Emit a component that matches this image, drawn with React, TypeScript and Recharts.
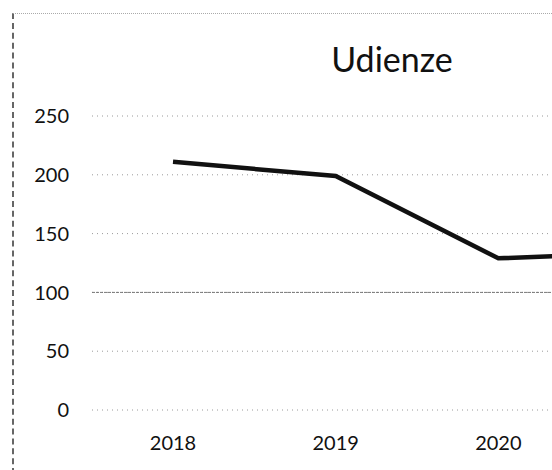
import { LineChart, Line, XAxis, YAxis, CartesianGrid, ReferenceLine } from 'recharts';

// values; the last year is cut off by the right edge
const years = ['2018', '2019', '2020', '2021'];
const udienze = [211, 199, 129, 134];
const yTicks = [0, 50, 100, 150, 200, 250];

const chartData = years.map((year, i) => ({ year, udienze: udienze[i] }));

const FONT = 'Lato, "Open Sans", sans-serif';
const VISIBLE_WIDTH = 552;

// the scan crops the chart on the right, so labels past the edge are not drawn
function YearTick(props: any) {
  const { x, y, payload } = props;
  if (x + 24 > VISIBLE_WIDTH) return null;
  return (
    <text x={x} y={y} dy="0.71em" textAnchor="middle" fontSize={20} fill="#111" fontFamily={FONT}>
      {payload.value}
    </text>
  );
}

export default function App() {
  return (
    <div
      style={{
        position: 'fixed',
        left: 0,
        top: 0,
        width: VISIBLE_WIDTH,
        height: 470,
        overflow: 'hidden',
        background: '#fff',
        fontFamily: FONT,
      }}
    >
      {/* frame of the scanned chart */}
      <div
        style={{
          position: 'absolute',
          left: 12,
          top: 13,
          width: 760,
          height: 470,
          borderLeft: '2px dashed #666',
          borderTop: '1px dotted #aaa',
        }}
      />
      <div
        style={{
          position: 'absolute',
          left: 0,
          top: 42,
          width: 784,
          textAlign: 'center',
          fontSize: 34,
          lineHeight: '34px',
          color: '#111',
        }}
      >
        Udienze
      </div>
      <div style={{ position: 'absolute', left: 0, top: 0 }}>
        <LineChart
          width={771}
          height={470}
          data={chartData}
          margin={{ top: 116, right: 29, left: 0, bottom: 30 }}
        >
          <CartesianGrid
            vertical={false}
            stroke="#9a9a9a"
            strokeDasharray="1 4"
          />
          <ReferenceLine y={100} stroke="#777" strokeDasharray="3 1" />
          <XAxis
            dataKey="year"
            height={30}
            padding={{ left: 81, right: 81 }}
            axisLine={false}
            tickLine={false}
            tickSize={0}
            tickMargin={26}
            tick={<YearTick />}
          />
          <YAxis
            width={92}
            domain={[0, 250]}
            ticks={yTicks}
            axisLine={false}
            tickLine={false}
            tickSize={0}
            tickMargin={23}
            tick={{ fontSize: 20, fill: '#111', fontFamily: FONT }}
          />
          <Line
            type="linear"
            dataKey="udienze"
            stroke="#111"
            strokeWidth={4.5}
            dot={false}
            isAnimationActive={false}
          />
        </LineChart>
      </div>
    </div>
  );
}
